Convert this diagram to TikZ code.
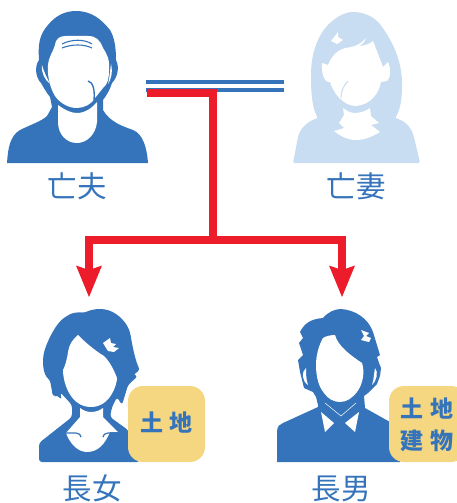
\documentclass[tikz,border=0pt]{standalone}
\usepackage{fontspec}
\setmainfont{Noto Sans CJK JP}
\definecolor{parentblue}{HTML}{3574BA}
\definecolor{palewife}{HTML}{C8DCF2}
\definecolor{linkred}{HTML}{ED1C2A}
\definecolor{badgeyellow}{HTML}{F5D681}
\tikzset{
	namelabel/.style = {text = parentblue, font = \fontsize{29.5}{30}\selectfont, inner sep = 0},
	badgebox/.style = {fill = badgeyellow, rounded corners = 15},
	badgetext/.style = {text = parentblue, font = \fontsize{23}{32}\selectfont\bfseries, inner sep = 0, align = center},
	redlink/.style = {draw = linkred, line width = 8, line join = miter},
}
\begin{document}
\begin{tikzpicture}[x = 1pt, y = -1pt]

	\useasboundingbox (0, 0) rectangle (456, 503);

	% Husband
	
	\fill [parentblue] (7, 163) .. controls (8, 148) and (10, 136) .. (20, 130) .. controls (30, 125) and (42, 121) .. (47, 116) -- (52, 107) -- (50, 97) .. controls (46, 92) and (44, 88) .. (41, 83) .. controls (36, 78) and (34, 67) .. (39, 60) .. controls (38, 45) and (39, 35) .. (48, 25) .. controls (56, 15) and (66, 11) .. (76, 11) .. controls (92, 11) and (102, 20) .. (110, 30) .. controls (115, 38) and (116, 50) .. (116, 60) .. controls (120, 68) and (117, 78) .. (112, 83) .. controls (110, 90) and (106, 96) .. (103, 100) -- (103, 110) .. controls (110, 122) and (122, 126) .. (133, 130) .. controls (143, 134) and (147, 148) .. (148, 163) -- cycle;
	\fill [white] (55, 45) .. controls (56, 38) and (60, 36) .. (66, 36) -- (88, 36) .. controls (96, 36) and (100, 40) .. (103, 48) .. controls (107, 54) and (110, 60) .. (109, 70) .. controls (109, 78) and (108, 84) .. (103, 88) -- (95, 98) .. controls (92, 104) and (84, 108) .. (77, 108) .. controls (68, 108) and (60, 103) .. (55, 96) .. controls (50, 88) and (47, 75) .. (48, 65) .. controls (49, 56) and (53, 52) .. (55, 45) -- cycle;
	\fill [white] (58, 105) .. controls (65, 110) and (71, 113) .. (77, 113) .. controls (85, 113) and (92, 108) .. (97, 102) -- (97, 122) .. controls (96, 134) and (87, 143) .. (77, 143) .. controls (66, 143) and (58, 134) .. (58, 122) -- cycle;
	\fill [white] (42, 65) .. controls (44, 72) and (47, 78) .. (50, 84) .. controls (45, 80) and (41, 73) .. (42, 65) -- cycle;
	\fill [white] (111, 64) .. controls (113, 72) and (111, 80) .. (108, 84) .. controls (110, 76) and (110, 70) .. (111, 64) -- cycle;
	\draw [parentblue, line width = 1.4] (88, 81) .. controls (93, 82) and (95, 90) .. (94, 100);
	\draw [parentblue, line width = 1.1] (62, 44) .. controls (72, 39) and (84, 39) .. (92, 44);
	\draw [parentblue, line width = 1.1] (62, 48) .. controls (72, 44) and (84, 44) .. (92, 48);
	\node (husband) [namelabel] at (77, 186) {亡夫};

	% Wife
	
	\fill [palewife, rounded corners = 2] (293, 163) -- (298, 137) .. controls (301, 127) and (309, 121) .. (318, 118) .. controls (312, 108) and (311, 90) .. (311, 77) .. controls (311, 50) and (320, 30) .. (335, 19) .. controls (343, 13) and (350, 12) .. (355, 12) .. controls (365, 13) and (375, 17) .. (382, 27) .. controls (395, 45) and (402, 65) .. (402, 85) .. controls (402, 100) and (400, 110) .. (395, 118) .. controls (405, 121) and (411, 127) .. (414, 137) -- (420, 163) -- cycle;
	\fill [white] (322, 63) -- (328, 65) .. controls (332, 55) and (338, 50) .. (345, 48) .. controls (355, 47) and (361, 44) .. (366, 38) .. controls (365, 42) and (362, 45) .. (358, 46) .. controls (364, 46) and (370, 44) .. (373, 41) -- (383, 67) -- (388, 62) .. controls (391, 68) and (391, 78) .. (387, 81) -- (381, 82) .. controls (379, 92) and (372, 105) .. (355, 106) .. controls (342, 105) and (333, 92) .. (330, 82) .. controls (324, 83) and (321, 72) .. (322, 63) -- cycle;
	\fill [white] (343, 108) .. controls (348, 112) and (352, 113) .. (355, 113) .. controls (360, 113) and (366, 111) .. (370, 108) -- (371, 116) -- (379, 123) -- (371, 125) -- (380, 132) .. controls (372, 137) and (364, 140) .. (356, 140) .. controls (348, 140) and (340, 136) .. (334, 131) -- (344, 128) -- (339, 123) -- (344, 115) -- cycle;
	\fill [white] (331, 41) -- (338, 32) -- (338, 37) -- (343, 40) -- (337, 44) -- (331, 41) -- (336, 39) -- cycle;
	\draw [palewife, line width = 1] (348, 81) .. controls (343, 86) and (341, 92) .. (341, 98);
	\node (wife) [namelabel] at (356, 186) {亡妻};

	% Daughter
	
	\fill [parentblue, rounded corners = 3] (39, 462) -- (39, 443) -- (72, 417) -- (72, 405) -- (60, 392) -- (62, 400) -- (57, 395) -- (53, 397) -- (50, 380) .. controls (44, 375) and (42, 365) .. (44, 352) .. controls (48, 340) and (56, 323) .. (67, 316) .. controls (72, 313) and (78, 312) .. (84, 313) .. controls (90, 310) and (96, 309) .. (102, 309) .. controls (115, 311) and (125, 320) .. (130, 332) .. controls (133, 350) and (136, 362) .. (140, 370) -- (133, 375) -- (138, 376) -- (128, 385) -- (122, 405) -- (117, 397) -- (112, 407) -- (110, 417) -- (128, 430) -- (140, 462) -- cycle;
	\fill [white] (78, 335) .. controls (72, 340) and (69, 345) .. (68, 352) .. controls (67, 360) and (65, 366) .. (63, 370) .. controls (63, 382) and (70, 407) .. (91, 407) .. controls (110, 407) and (117, 385) .. (117, 378) .. controls (114, 370) and (110, 362) .. (104, 356) .. controls (94, 350) and (85, 342) .. (78, 335) -- cycle;
	\fill [white] (80, 408) .. controls (84, 411) and (88, 412) .. (91, 412) .. controls (95, 412) and (99, 411) .. (103, 408) -- (103, 417) -- (118, 432) -- (110, 432) .. controls (105, 444) and (98, 452) .. (87, 452) .. controls (78, 452) and (70, 444) .. (66, 433) -- (80, 417) -- cycle;
	\draw [parentblue, line width = 1.2] (66, 433) -- (76, 433) .. controls (79, 433) and (81, 435) .. (81, 437);
	\draw [parentblue, line width = 1.2] (118, 433) -- (108, 433) .. controls (105, 433) and (103, 435) .. (103, 437);
	\fill [white] (103, 343) -- (110, 338) -- (111, 343) -- (116, 344) -- (113, 347) -- (119, 348) -- (114, 352) -- (108, 351) -- cycle;
	\node (daughterbadge) [badgebox, minimum width = 77, minimum height = 76] at (166.5, 424) {};
	\node (daughtertext) [badgetext] at (166.5, 423) {土\hspace{7pt}地};
	\node (daughter) [namelabel] at (92, 488.5) {長女};

	% Son
	
	\fill [parentblue] (277, 462) -- (277, 432) .. controls (277, 426) and (280, 424) .. (283, 423) -- (318, 407) -- (318, 405) -- (316, 397) -- (313, 392) -- (304, 388) -- (300, 372) -- (298, 360) -- (303, 355) -- (299, 343) -- (303, 338) -- (300, 332) .. controls (304, 324) and (310, 319) .. (323, 318) .. controls (328, 312) and (335, 309) .. (341, 309) .. controls (355, 310) and (368, 318) .. (373, 332) -- (380, 355) -- (377, 357) -- (379, 363) -- (381, 368) -- (380, 376) -- (377, 384) -- (368, 393) -- (364, 396) -- (365, 408) -- (390, 422) -- (400, 462) -- cycle;
	\fill [white] (323, 338) .. controls (326, 336) and (331, 335) .. (335, 335) .. controls (338, 346) and (350, 355) .. (362, 363) .. controls (365, 372) and (363, 384) .. (357, 392) .. controls (352, 398) and (347, 402) .. (340, 402) .. controls (334, 402) and (328, 399) .. (324, 393) .. controls (318, 386) and (316, 375) .. (316, 365) .. controls (316, 355) and (319, 345) .. (323, 338) -- cycle;
	\fill [white] (361, 330) -- (369, 333) -- (366, 336) -- (371, 338) -- (369, 342) -- (361, 340) -- (364, 336) -- cycle;
	\fill [white] (306, 368) .. controls (301, 372) and (302, 381) .. (308, 385) .. controls (306, 379) and (306, 373) .. (306, 368) -- cycle;
	\fill [white] (375, 368) .. controls (379, 372) and (376, 382) .. (372, 385) .. controls (374, 379) and (374, 373) .. (375, 368) -- cycle;
	\fill [white] (321, 412) -- (334, 423) -- (325, 432) -- cycle;
	\fill [white] (359, 412) -- (345, 423) -- (355, 432) -- cycle;
	\draw [white, line width = 0.5] (325, 403) -- (341, 416) -- (356, 403);
	\node (sonbadge) [badgebox, minimum width = 77, minimum height = 76] at (427.5, 424) {};
	\node (sontext) [badgetext] at (427, 424.5) {土\hspace{7pt}地\\建\hspace{7pt}物};
	\node (son) [namelabel] at (341, 488.5) {長男};

	% Marriage lines
	
	\coordinate (marriagetopleft) at (146, 82);
	\coordinate (marriagetopright) at (284, 82);
	\coordinate (marriagelowleft) at (146, 90);
	\coordinate (marriagelowright) at (284, 90);
	\draw [parentblue, line width = 4] (marriagetopleft) -- (marriagetopright);
	\draw [parentblue, line width = 4] (marriagelowleft) -- (marriagelowright);

	% Red inheritance links
	
	\coordinate (linkstart) at (147, 92.5);
	\coordinate (linkcorner) at (213, 92.5);
	\coordinate (linkjoin) at (213, 241);
	\coordinate (leftbend) at (88.5, 240);
	\coordinate (rightbend) at (342, 240);
	\coordinate (lefttip) at (89, 297);
	\coordinate (righttip) at (342, 297);
	\draw [redlink] (linkstart) -- (linkcorner) -- (linkjoin);
	\draw [redlink] (88.5, 280) -- (leftbend) -- (rightbend) -- (342, 280);
	\fill [linkred] (lefttip) -- (76, 265.5) -- (89, 270) -- (102, 265.5) -- cycle;
	\fill [linkred] (righttip) -- (329, 265.5) -- (342, 270) -- (355, 265.5) -- cycle;
	
\end{tikzpicture}
\end{document}
